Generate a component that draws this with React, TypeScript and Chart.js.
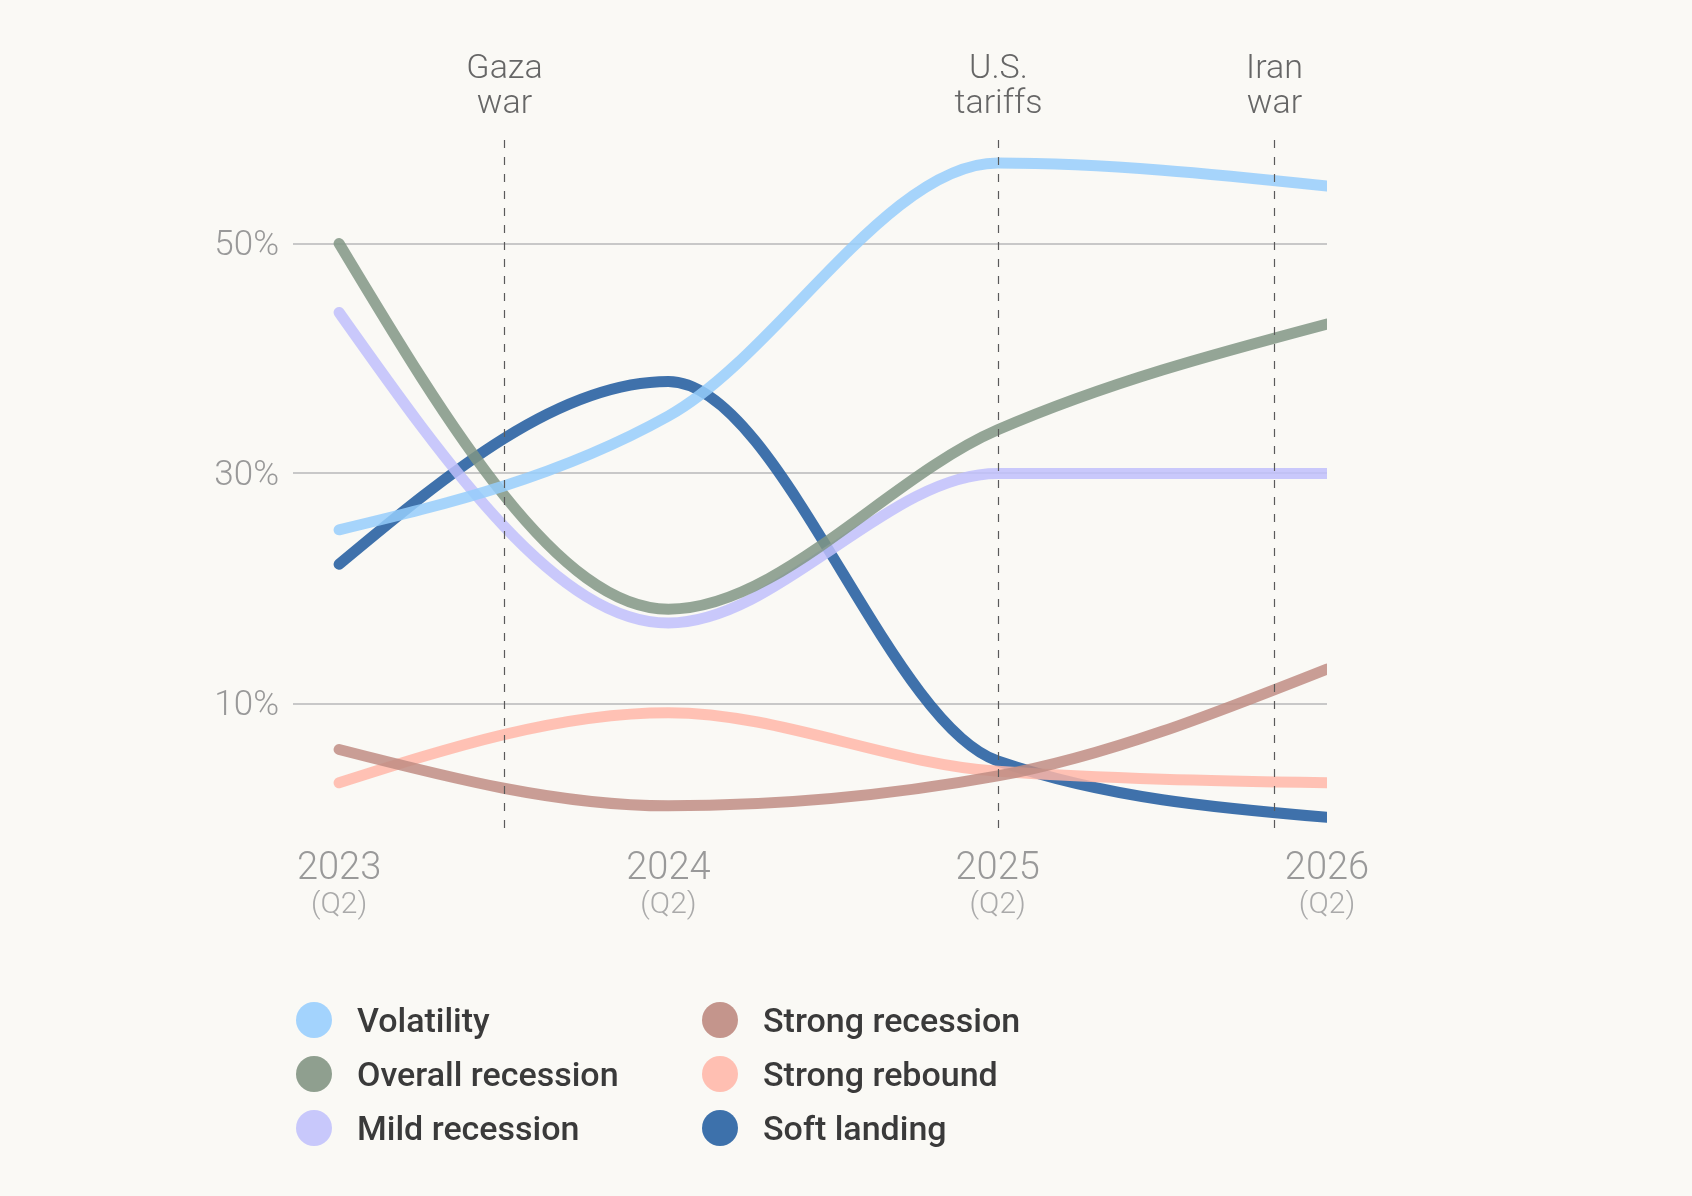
import React, { useEffect, useRef } from "react";
import { Chart, registerables } from "chart.js";

Chart.register(...registerables);

// ---- data ----
const years = [2023, 2024, 2025, 2026];
const quarterLabel = "(Q2)";
const volatility = [25.1, 35.0, 57.0, 55.0];
const overallRecession = [50.0, 18.2, 33.8, 43.0];
const mildRecession = [44.0, 17.0, 30.0, 30.0];
const strongRecession = [6.0, 1.1, 3.7, 13.0];
const strongRebound = [3.1, 9.2, 4.1, 3.1];
const softLanding = [22.1, 38.0, 5.0, 0.1];
const yTicks = [10, 30, 50];
const eventPositions = [2023.5, 2025.0, 2025.84];
const eventLabels = [["Gaza", "war"], ["U.S.", "tariffs"], ["Iran", "war"]];

const seriesNames = ["Volatility", "Overall recession", "Mild recession", "Strong recession", "Strong rebound", "Soft landing"];
const seriesValues = [volatility, overallRecession, mildRecession, strongRecession, strongRebound, softLanding];
const lineColors = [
  "rgba(151,206,252,0.85)",
  "rgba(129,150,133,0.85)",
  "rgba(192,191,252,0.85)",
  "rgba(191,141,132,0.85)",
  "rgba(255,183,168,0.85)",
  "rgba(29,89,158,0.85)",
];
const legendColors = ["#a3d3fd", "#8f9f8f", "#c8c8fb", "#c4958c", "#ffbfb2", "#3d71ab"];
const legendColumns = [[0, 1, 2], [3, 4, 5]];

const FONT = "Roboto";
const BG = "#faf9f5";

// d3-style monotoneX control points (Steffen tangents, d3 end tangents)
const monotonePlugin = {
  id: "d3monotone",
  beforeDatasetDraw(chart: any, args: any) {
    const meta = args.meta;
    const line = meta.dataset;
    const pts = meta.data;
    if (!line || !pts || pts.length < 2) return;
    if (line.updateControlPoints) line.updateControlPoints(chart.chartArea, "x");
    const n = pts.length;
    const xs = pts.map((p: any) => p.x);
    const ys = pts.map((p: any) => p.y);
    const sec: number[] = [];
    for (let i = 0; i < n - 1; i++) sec[i] = (ys[i + 1] - ys[i]) / (xs[i + 1] - xs[i]);
    const t: number[] = new Array(n).fill(0);
    for (let i = 1; i < n - 1; i++) {
      const h0 = xs[i] - xs[i - 1];
      const h1 = xs[i + 1] - xs[i];
      const s0 = sec[i - 1];
      const s1 = sec[i];
      const p = (s0 * h1 + s1 * h0) / (h0 + h1);
      t[i] = (Math.sign(s0) + Math.sign(s1)) * Math.min(Math.abs(s0), Math.abs(s1), 0.5 * Math.abs(p)) || 0;
    }
    if (n === 2) {
      t[0] = sec[0];
      t[1] = sec[0];
    } else {
      t[0] = (3 * sec[0] - t[1]) / 2;
      t[n - 1] = (3 * sec[n - 2] - t[n - 2]) / 2;
    }
    for (let i = 0; i < n; i++) {
      const p = pts[i];
      if (i > 0) {
        const dx = (xs[i] - xs[i - 1]) / 3;
        p.cp1x = xs[i] - dx;
        p.cp1y = ys[i] - dx * t[i];
      } else {
        p.cp1x = xs[i];
        p.cp1y = ys[i];
      }
      if (i < n - 1) {
        const dx = (xs[i + 1] - xs[i]) / 3;
        p.cp2x = xs[i] + dx;
        p.cp2y = ys[i] + dx * t[i];
      } else {
        p.cp2x = xs[i];
        p.cp2y = ys[i];
      }
    }
    line._path = undefined;
  },
};

const eventPlugin = {
  id: "events",
  afterDatasetsDraw(chart: any) {
    const { ctx, chartArea, scales } = chart;
    const xs = scales.x;
    ctx.save();
    eventPositions.forEach((v, i) => {
      const px = Math.round(xs.getPixelForValue(v)) + 0.5;
      ctx.strokeStyle = "#5a5a5a";
      ctx.lineWidth = 1.2;
      ctx.setLineDash([8, 9]);
      ctx.beginPath();
      ctx.moveTo(px, chartArea.top);
      ctx.lineTo(px, chartArea.bottom);
      ctx.stroke();
      ctx.setLineDash([]);
      ctx.fillStyle = "#666";
      ctx.font = `300 34px ${FONT}`;
      ctx.textAlign = "center";
      ctx.textBaseline = "alphabetic";
      eventLabels[i].forEach((txt, j) => {
        ctx.fillText(txt, px, 78 + j * 35);
      });
    });
    ctx.restore();
  },
};

export default function App() {
  const ref = useRef<HTMLCanvasElement | null>(null);

  useEffect(() => {
    document.body.style.margin = "0";
    document.body.style.background = BG;
    const canvas = ref.current!;
    const xMin = 2022.86;
    const xMax = 2026;
    const chart = new Chart(canvas, {
      type: "line",
      data: {
        datasets: seriesNames.map((name, i) => ({
          label: name,
          data: years.map((x, k) => ({ x, y: seriesValues[i][k] })),
          borderColor: lineColors[i],
          backgroundColor: lineColors[i],
          borderWidth: 11,
          borderCapStyle: "round",
          borderJoinStyle: "round",
          cubicInterpolationMode: "monotone",
          pointRadius: 0,
          fill: false,
        })),
      },
      options: {
        animation: false,
        responsive: false,
        devicePixelRatio: 1,
        layout: { padding: { top: 140, right: 1692 - 1327, bottom: 266, left: 0 } },
        plugins: { legend: { display: false }, tooltip: { enabled: false } },
        events: [],
        scales: {
          x: {
            type: "linear",
            min: xMin,
            max: xMax,
            grid: { display: false, drawTicks: false },
            border: { display: false },
            afterBuildTicks: (s: any) => {
              s.ticks = years.map((v) => ({ value: v }));
            },
            afterFit: (s: any) => {
              s.height = 60;
            },
            ticks: {
              autoSkip: false,
              maxRotation: 0,
              padding: 20,
              color: "#999",
              font: { family: FONT, size: 38, weight: "300" as any, lineHeight: 1 },
              callback: (v: any) => String(v),
            },
          },
          x2: {
            type: "linear",
            position: "bottom",
            min: xMin,
            max: xMax,
            grid: { display: false, drawTicks: false },
            border: { display: false },
            afterBuildTicks: (s: any) => {
              s.ticks = years.map((v) => ({ value: v }));
            },
            afterFit: (s: any) => {
              s.height = 40;
            },
            ticks: {
              autoSkip: false,
              maxRotation: 0,
              padding: 0,
              color: "#aaa",
              font: { family: FONT, size: 30, weight: "300" as any, lineHeight: 1 },
              callback: () => quarterLabel,
            },
          },
          y: {
            type: "linear",
            min: -1,
            max: 59,
            grid: { color: "#c8c8c8", lineWidth: 2, drawTicks: false },
            border: { display: false },
            afterBuildTicks: (s: any) => {
              s.ticks = yTicks.map((v) => ({ value: v }));
            },
            afterFit: (s: any) => {
              s.width = 293;
            },
            ticks: {
              padding: 14,
              labelOffset: 3,
              color: "#999",
              font: { family: FONT, size: 35, weight: "300" as any },
              callback: (v: any) => `${v}%`,
            },
          },
        },
      },
      plugins: [monotonePlugin, eventPlugin],
    } as any);
    return () => chart.destroy();
  }, []);

  return (
    <div style={{ position: "relative", width: 1692, height: 1196, background: BG, overflow: "hidden" }}>
      <canvas ref={ref} width={1692} height={1196} style={{ position: "absolute", left: 0, top: 0, width: 1692, height: 1196 }} />
      {legendColumns.map((col, c) =>
        col.map((idx, r) => (
          <div
            key={idx}
            style={{
              position: "absolute",
              left: c === 0 ? 296 : 702,
              top: 1020 + r * 54 - 20,
              height: 40,
              display: "flex",
              alignItems: "center",
              fontFamily: FONT,
              fontWeight: 500,
              fontSize: 34,
              letterSpacing: 0,
              color: "#3a3a3a",
              whiteSpace: "nowrap",
            }}
          >
            <span
              style={{
                display: "inline-block",
                width: 36,
                height: 36,
                borderRadius: "50%",
                background: legendColors[idx],
                marginRight: 25,
              }}
            />
            <span>{seriesNames[idx]}</span>
          </div>
        ))
      )}
    </div>
  );
}
